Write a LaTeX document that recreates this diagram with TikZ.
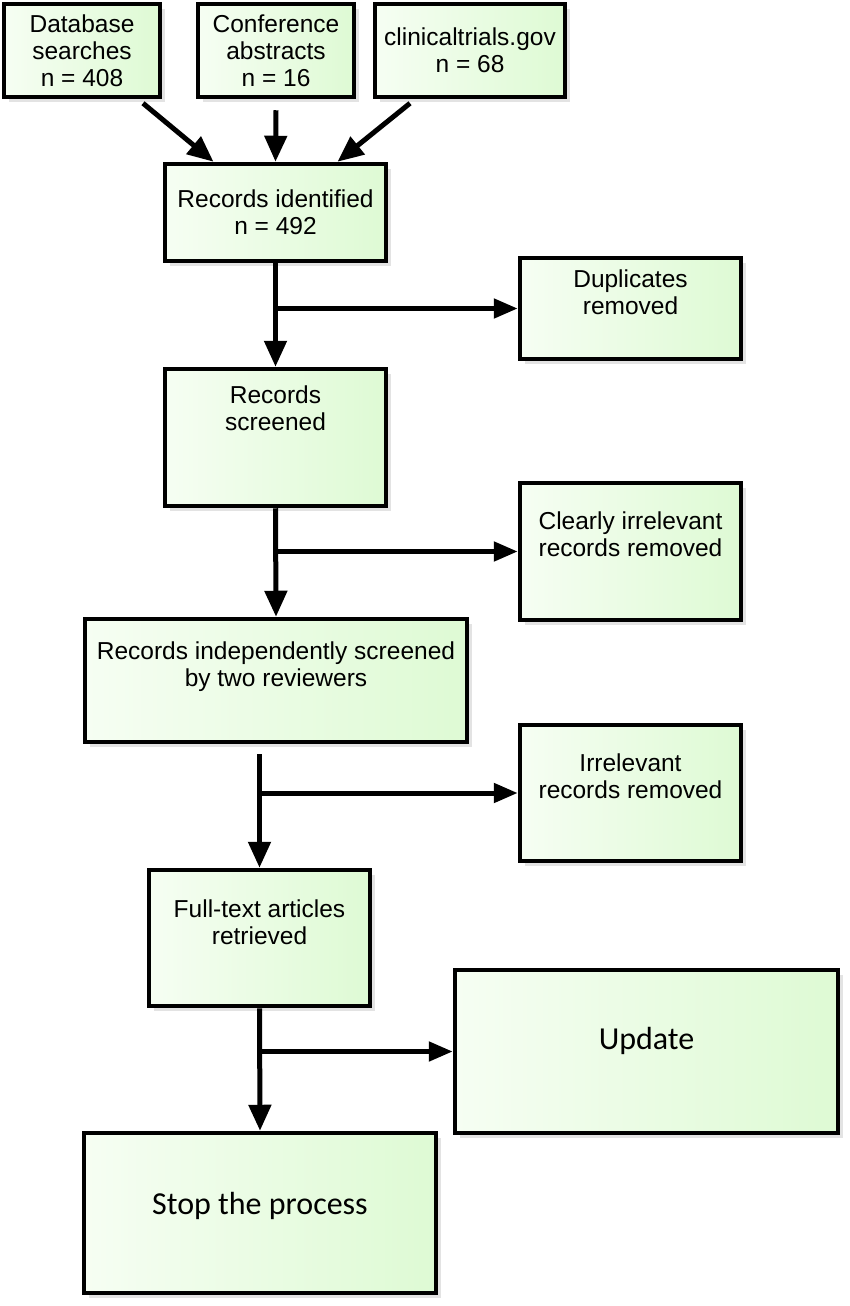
\documentclass[tikz,border=0pt]{standalone}
\usepackage{fontspec}
\setmainfont{Liberation Sans}
\newfontfamily\calib{Carlito}
\usepackage{xcolor}
\usetikzlibrary{arrows.meta,shadows}
\definecolor{boxgreen}{RGB}{222,250,212}
\definecolor{boxlight}{RGB}{246,254,243}

\begin{document}
\begin{tikzpicture}
  [x=1pt,y=-1pt,
   box/.style={draw=black,line width=4.5pt,left color=boxlight,right color=boxgreen,
     drop shadow={shadow xshift=5pt,shadow yshift=-5pt,fill=black!22},
     align=center,inner sep=0pt,font=\fontsize{24.5}{27}\selectfont},
   lift/.style={text depth=#1},
   arr/.style={line width=5pt,-{Triangle[length=26pt,width=22pt]}},
   harr/.style={line width=5pt,-{Triangle[length=24pt,width=19pt]}}]
  \useasboundingbox (0,0) rectangle (850,1306);

  \node[box,minimum width=156,minimum height=93] (db) at (82,50.5) {Database\\searches\\n = 408};
  \node[box,minimum width=156,minimum height=93] (conf) at (276,50.5) {Conference\\abstracts\\n = 16};
  \node[box,minimum width=190,minimum height=93] (clin) at (470,50.5) {clinicaltrials.gov\\n = 68};
  \node[box,minimum width=221,minimum height=97] (rid) at (275.5,212.5) {Records identified\\n = 492};
  \node[box,minimum width=221,minimum height=101,lift=32pt] (dup) at (630.5,308.5) {Duplicates\\removed};
  \node[box,minimum width=221,minimum height=137,lift=59pt] (scr) at (275.5,437.5) {Records\\screened};
  \node[box,minimum width=221,minimum height=137,lift=35pt] (clr) at (630.5,551.5) {Clearly irrelevant\\records removed};
  \node[box,minimum width=382,minimum height=123,lift=33pt] (ind) at (276,680.5) {Records independently screened\\by two reviewers};
  \node[box,minimum width=221,minimum height=136,lift=33pt] (irr) at (630.5,793) {Irrelevant\\records removed};
  \node[box,minimum width=221,minimum height=136,lift=32pt] (ft) at (259.5,938) {Full-text articles\\retrieved};
  \node[box,minimum width=383,minimum height=163,lift=27pt,font=\calib\fontsize{32}{36}\selectfont] (upd) at (646.5,1051.5) {Update};
  \node[box,minimum width=352,minimum height=160,lift=19pt,font=\calib\fontsize{32}{36}\selectfont] (stop) at (260,1213) {Stop the process};

  % sources
  \draw[arr] ([xshift=61pt,yshift=-4pt]db.south) -- ([xshift=-62pt]rid.north);
  \draw[arr] ([yshift=-11pt]conf.south) -- (rid.north);
  \draw[arr] ([xshift=-60pt,yshift=-4pt]clin.south) -- ([xshift=62pt]rid.north);

  % main flow
  \foreach \from/\to in {rid/scr,scr/ind,ft/stop}
    \draw[arr] (\from.south) -- (\to.north);
  \draw[arr] ([yshift=-10pt]ind.south -| ft.north) -- (ft.north);

  % removed
  \foreach \from/\to in {rid/dup,scr/clr,ft/upd}
    \draw[harr] (\from.south |- \to.west) -- (\to.west);
  \draw[harr] (ft.north |- irr.west) -- (irr.west);

\end{tikzpicture}
\end{document}
